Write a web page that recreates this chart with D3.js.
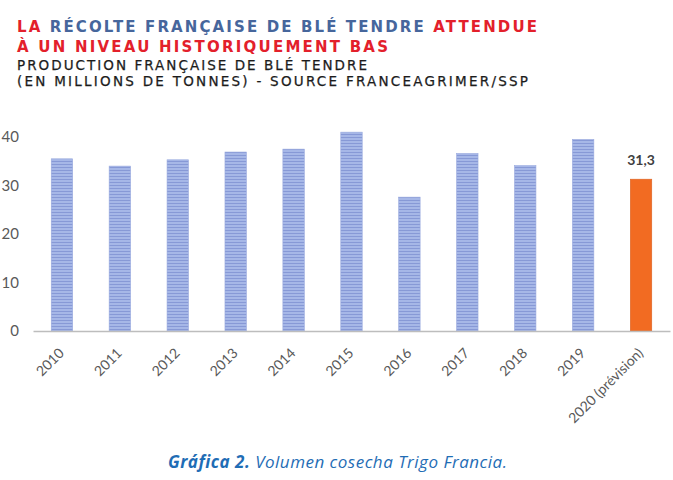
<!DOCTYPE html>
<html>
<head>
<meta charset="utf-8">
<script src="https://cdn.jsdelivr.net/npm/d3@7"></script>
<style>
  body { margin: 0; background: #fff; }
  svg { display: block; }
</style>
</head>
<body>
<script>
// data (millions of tonnes)
const years = ['2010', '2011', '2012', '2013', '2014', '2015', '2016', '2017', '2018', '2019', '2020 (prévision)'];
const production = [35.5, 34.0, 35.3, 36.9, 37.5, 41.0, 27.6, 36.6, 34.1, 39.5, 31.3];
const yTicks = [0, 10, 20, 30, 40];
const highlighted = '2020 (prévision)';
const highlightLabel = '31,3';

const W = 673, H = 480;
const svg = d3.select('body').append('svg').attr('width', W).attr('height', H);
svg.append('rect').attr('width', W).attr('height', H).attr('fill', '#fff');

// striped fill used by the blue bars
const defs = svg.append('defs');
const pat = defs.append('pattern')
  .attr('id', 'stripes')
  .attr('patternUnits', 'userSpaceOnUse')
  .attr('width', 4).attr('height', 3);
pat.append('rect').attr('width', 4).attr('height', 3).attr('fill', '#a6b7e7');
pat.append('rect').attr('y', 2).attr('width', 4).attr('height', 1).attr('fill', '#8799d6');

// titles: stretch each line to the width seen in the reference
function fitLine(sel, target) {
  const node = sel.node();
  const natural = node.getComputedTextLength();
  const n = node.textContent.length;
  sel.attr('letter-spacing', ((target - natural) / (n - 1)).toFixed(3));
}

const red = '#e3202b', blue = '#46669c';

const t1 = svg.append('text').attr('x', 17).attr('y', 32)
  .attr('font-family', 'DejaVu Sans').attr('font-weight', 'bold').attr('font-size', 15);
t1.append('tspan').attr('fill', red).text('LA ');
t1.append('tspan').attr('fill', blue).text('RÉCOLTE FRANÇAISE DE BLÉ TENDRE ');
t1.append('tspan').attr('fill', red).text('ATTENDUE');
fitLine(t1, 520);

const t2 = svg.append('text').attr('x', 17).attr('y', 52)
  .attr('font-family', 'DejaVu Sans').attr('font-weight', 'bold').attr('font-size', 15)
  .attr('fill', red).text('À UN NIVEAU HISTORIQUEMENT BAS');
fitLine(t2, 371);

const t3 = svg.append('text').attr('x', 17).attr('y', 69.5)
  .attr('font-family', 'DejaVu Sans').attr('font-size', 13.5).attr('fill', '#1c1c1c')
  .attr('stroke', '#1c1c1c').attr('stroke-width', 0.25)
  .text('PRODUCTION FRANÇAISE DE BLÉ TENDRE');
fitLine(t3, 350);

const t4 = svg.append('text').attr('x', 17).attr('y', 85.5)
  .attr('font-family', 'DejaVu Sans').attr('font-size', 13.5).attr('fill', '#1c1c1c')
  .attr('stroke', '#1c1c1c').attr('stroke-width', 0.25)
  .text('(EN MILLIONS DE TONNES) - SOURCE FRANCEAGRIMER/SSP');
fitLine(t4, 511);

// scales
const x = d3.scaleBand().domain(years).range([33, 670])
  .paddingInner(0.63).paddingOuter(0.315);
const y = d3.scaleLinear().domain([0, 40]).range([331, 137]);

// y axis labels only
const yAxis = svg.append('g')
  .attr('transform', 'translate(19,0)')
  .call(d3.axisLeft(y).tickValues(yTicks).tickSize(0).tickPadding(0));
yAxis.select('.domain').remove();
yAxis.selectAll('text')
  .attr('font-family', 'Lato').attr('font-size', 15).attr('fill', '#595959');

// bars
svg.append('g').selectAll('rect')
  .data(years)
  .join('rect')
  .attr('x', d => x(d))
  .attr('width', x.bandwidth())
  .attr('y', (d, i) => y(production[i]))
  .attr('height', (d, i) => y(0) - y(production[i]))
  .attr('fill', d => d === highlighted ? '#f26b22' : 'url(#stripes)')
  .attr('stroke', d => d === highlighted ? '#dc6324' : '#98a9de')
  .attr('stroke-width', 0.6);

// value label on the forecast bar
const hi = years.indexOf(highlighted);
svg.append('text')
  .attr('x', x(highlighted) + x.bandwidth() / 2)
  .attr('y', y(production[hi]) - 14)
  .attr('text-anchor', 'middle')
  .attr('font-family', 'Lato').attr('font-weight', 'bold').attr('font-size', 14)
  .attr('fill', '#404040')
  .text(highlightLabel);

// x axis
const xAxis = svg.append('g')
  .attr('transform', `translate(0,${y(0)})`)
  .call(d3.axisBottom(x).tickSize(0).tickSizeOuter(0));
xAxis.select('.domain').attr('stroke', '#bdbdbd').attr('stroke-width', 1.6);
xAxis.selectAll('text')
  .attr('y', 0).attr('dy', 0)
  .attr('transform', 'translate(3,23) rotate(-45)')
  .attr('text-anchor', 'end')
  .attr('font-family', 'Lato').attr('font-size', 14).attr('fill', '#595959');

// caption
const cap = svg.append('text')
  .attr('x', 168).attr('y', 468)
  .attr('font-family', 'Open Sans').attr('font-style', 'italic').attr('font-size', 17)
  .attr('fill', '#1f6db5');
cap.append('tspan').attr('font-weight', 'bold').text('Gráfica 2.');
cap.append('tspan').text(' Volumen cosecha Trigo Francia.');
fitLine(cap, 339);
</script>
</body>
</html>
